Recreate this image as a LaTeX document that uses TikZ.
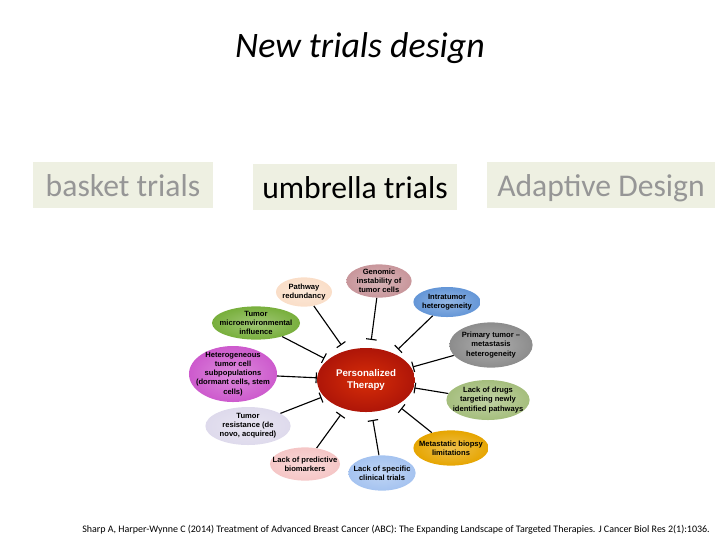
\documentclass[tikz,border=0pt]{standalone}
\usepackage{fontspec}
\setmainfont{Carlito}
\setsansfont{Liberation Sans}
\usepackage{xcolor}
\usetikzlibrary{shapes.geometric,arrows.meta,positioning,calc}
\definecolor{boxgreen}{RGB}{238,240,226}
\definecolor{boxgray}{RGB}{150,150,150}
\definecolor{genomicc}{RGB}{200,150,155}
\definecolor{pathwayc}{RGB}{250,222,200}
\definecolor{intrac}{RGB}{100,150,215}
\definecolor{microc}{RGB}{120,175,60}
\definecolor{primaryc}{RGB}{140,140,140}
\definecolor{heteroc}{RGB}{205,90,205}
\definecolor{drugsc}{RGB}{165,190,125}
\definecolor{resistc}{RGB}{222,218,236}
\definecolor{metac}{RGB}{230,165,0}
\definecolor{predictc}{RGB}{245,198,198}
\definecolor{specificc}{RGB}{165,195,240}
\definecolor{therapyred}{RGB}{205,25,10}

\begin{document}
\begin{tikzpicture}[x=0.025cm, y=-0.025cm,
    design/.style={rectangle, fill=boxgreen, minimum height=1.15cm, text height=20pt, text depth=3pt,
                   font=\fontsize{22.5}{26}\selectfont},
    issue/.style={ellipse, inner sep=0pt, inner color=#1!70!white, outer color=#1},
    issuetext/.style={align=center, font=\sffamily\bfseries\fontsize{5.4}{6.5}\selectfont},
    inhibit/.style={line width=0.8pt, -{Bar[width=7.5pt]}}]

    \useasboundingbox (0,0) rectangle (720,540);

    % title and trial types
    \node (title) at (360,48) {\fontsize{25.5}{30}\selectfont\itshape New trials design};
    \node[design, minimum width=4.5cm, text=boxgray] (basket) at (123,185) {basket trials};
    \node[design, minimum width=5.1cm] (umbrella) at (355,187) {umbrella trials};
    \node[design, minimum width=5.7cm, text=boxgray] (adaptive) at (601,185) {Adaptive Design};

    % centre
    \node[ellipse, minimum width=2.05cm, minimum height=1.6cm, inner color=therapyred!80!orange, outer color=therapyred!85!black,
          text=white, align=center, font=\sffamily\bfseries\fontsize{6.9}{8.6}\selectfont] (therapy) at (366,380) {Personalized\\Therapy};
    \node[ellipse, minimum width=2.45cm, minimum height=2cm] (ring) at (366,380) {};

    % issues
    \node[issue=genomicc, minimum width=1.63cm, minimum height=0.83cm,
          label={[issuetext]center:{Genomic\\instability of\\tumor cells}}] (genomic) at (379,281) {};
    \node[issue=pathwayc, minimum width=1.4cm, minimum height=0.73cm,
          label={[issuetext]center:{Pathway\\redundancy}}] (pathway) at (304,292) {};
    \node[issue=intrac, minimum width=1.68cm, minimum height=0.75cm,
          label={[issuetext]center:{Intratumor\\heterogeneity}}] (intra) at (447,302) {};
    \node[issue=microc, minimum width=2.2cm, minimum height=0.83cm,
          label={[issuetext]center:{Tumor\\microenvironmental\\influence}}] (micro) at (256,323) {};
    \node[issue=primaryc, minimum width=2.08cm, minimum height=1.13cm,
          label={[issuetext]center:{Primary tumor --\\metastasis\\heterogeneity}}] (primary) at (491,345) {};
    \node[issue=heteroc, minimum width=2.2cm, minimum height=1.4cm,
          label={[issuetext]center:{Heterogeneous\\tumor cell\\subpopulations\\(dormant cells, stem\\cells)}}] (hetero) at (233,374) {};
    \node[issue=drugsc, minimum width=2.08cm, minimum height=1cm,
          label={[issuetext]center:{Lack of drugs\\targeting newly\\identified pathways}}] (drugs) at (488,400) {};
    \node[issue=resistc, minimum width=2.13cm, minimum height=0.95cm,
          label={[issuetext]center:{Tumor\\resistance (de\\novo, acquired)}}] (resist) at (248,426) {};
    \node[issue=metac, minimum width=1.88cm, minimum height=0.88cm,
          label={[issuetext]center:{Metastatic biopsy\\limitations}}] (meta) at (451,448) {};
    \node[issue=predictc, minimum width=1.75cm, minimum height=0.83cm,
          label={[issuetext]center:{Lack of predictive\\biomarkers}}] (predict) at (305,464) {};
    \node[issue=specificc, minimum width=1.68cm, minimum height=0.88cm,
          label={[issuetext]center:{Lack of specific\\clinical trials}}] (specific) at (382,473) {};

    \foreach \n in {genomic,pathway,intra,micro,primary,hetero,drugs,resist,meta,predict,specific}
        \draw[inhibit] (\n) -- (ring);

    % reference
    \node[anchor=west, inner sep=0pt, font=\fontsize{7.1}{8.5}\selectfont] (cite) at (82,530) {Sharp A, Harper-Wynne C (2014) Treatment of Advanced Breast Cancer (ABC): The Expanding Landscape of Targeted Therapies. J Cancer Biol Res 2(1):1036.};
\end{tikzpicture}
\end{document}
